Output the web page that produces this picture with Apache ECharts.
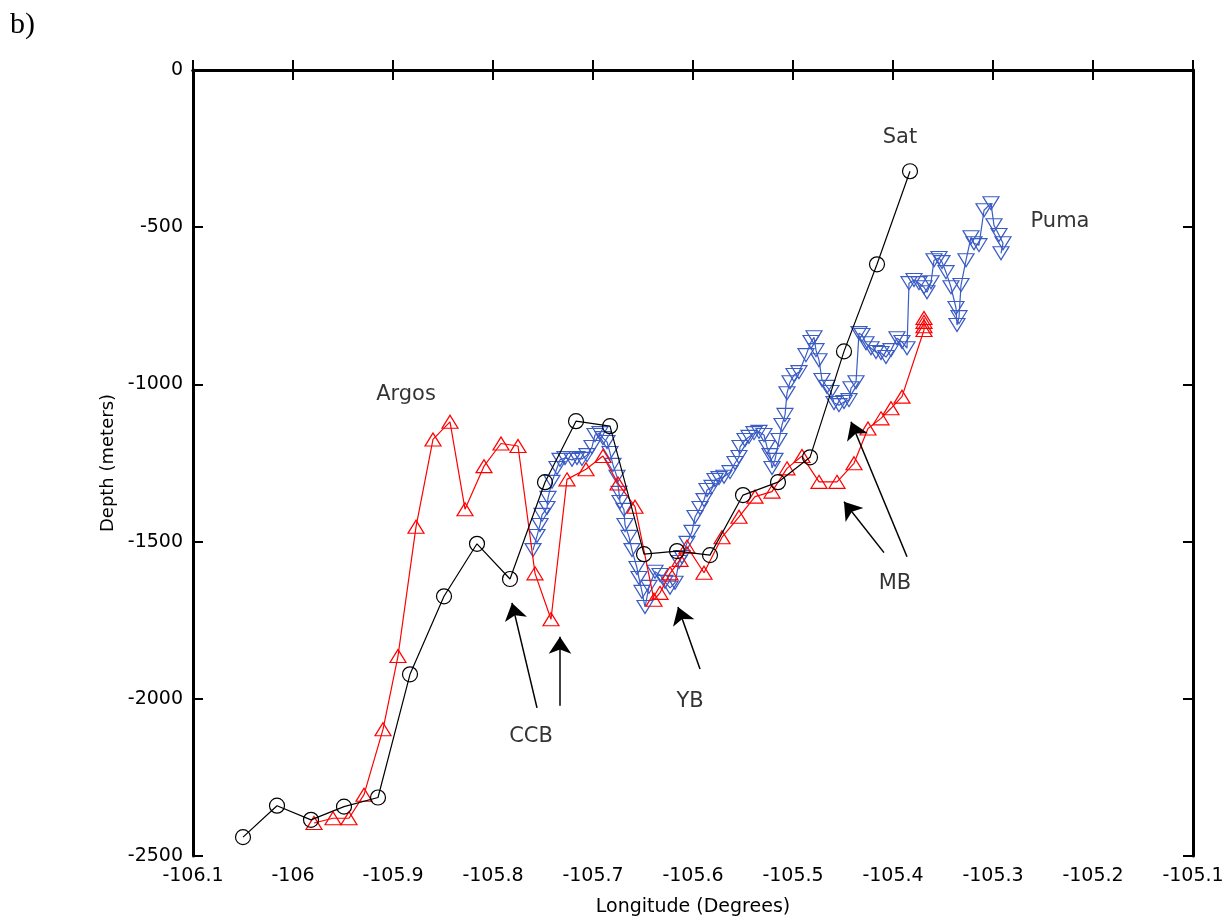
<!DOCTYPE html>
<html>
<head>
<meta charset="utf-8">
<script src="https://cdn.jsdelivr.net/npm/echarts@6/dist/echarts.min.js"></script>
<style>
html,body{margin:0;padding:0;background:#fff;}
#chart{width:1225px;height:920px;}
</style>
</head>
<body>
<div id="chart"></div>
<script>
// ---- Data (longitude in degrees, depth in meters) ----
const satLon = [-106.050,-106.016,-105.982,-105.949,-105.915,-105.883,-105.849,-105.816,-105.783,-105.748,-105.717,-105.683,-105.649,-105.616,-105.583,-105.550,-105.515,-105.483,-105.449,-105.416,-105.383];
const satDepth = [-2440,-2340,-2385,-2343,-2314,-1922,-1674,-1507,-1619,-1311,-1117,-1133,-1540,-1530,-1543,-1352,-1311,-1232,-895,-618,-322];

const argosLon = [-105.979,-105.960,-105.944,-105.929,-105.910,-105.895,-105.877,-105.860,-105.843,-105.828,-105.809,-105.792,-105.775,-105.758,-105.742,-105.726,-105.707,-105.690,-105.675,-105.658,-105.639,-105.633,-105.623,-105.613,-105.606,-105.589,-105.571,-105.554,-105.538,-105.521,-105.506,-105.491,-105.474,-105.456,-105.439,-105.425,-105.412,-105.402,-105.391,-105.369,-105.369,-105.369,-105.369];
const argosDepth = [-2395,-2380,-2380,-2305,-2097,-1864,-1453,-1175,-1119,-1397,-1260,-1188,-1196,-1601,-1747,-1302,-1270,-1228,-1315,-1389,-1685,-1663,-1601,-1558,-1516,-1599,-1486,-1421,-1357,-1341,-1267,-1228,-1310,-1310,-1251,-1140,-1108,-1076,-1039,-827,-815,-801,-789];

const pumaLon = [-105.760,-105.756,-105.753,-105.751,-105.746,-105.745,-105.741,-105.736,-105.733,-105.728,-105.721,-105.716,-105.711,-105.706,-105.701,-105.698,-105.693,-105.690,-105.686,-105.683,-105.680,-105.676,-105.674,-105.673,-105.669,-105.668,-105.664,-105.661,-105.656,-105.654,-105.651,-105.648,-105.644,-105.638,-105.633,-105.628,-105.623,-105.618,-105.614,-105.611,-105.606,-105.601,-105.598,-105.593,-105.589,-105.586,-105.581,-105.578,-105.574,-105.569,-105.563,-105.558,-105.554,-105.553,-105.548,-105.544,-105.539,-105.534,-105.529,-105.526,-105.523,-105.521,-105.518,-105.514,-105.511,-105.508,-105.506,-105.503,-105.499,-105.494,-105.487,-105.482,-105.479,-105.477,-105.474,-105.471,-105.466,-105.462,-105.459,-105.454,-105.449,-105.444,-105.442,-105.437,-105.434,-105.431,-105.427,-105.422,-105.417,-105.412,-105.407,-105.402,-105.396,-105.391,-105.386,-105.384,-105.379,-105.374,-105.369,-105.366,-105.362,-105.359,-105.354,-105.351,-105.347,-105.342,-105.337,-105.336,-105.334,-105.332,-105.327,-105.322,-105.319,-105.314,-105.309,-105.302,-105.299,-105.294,-105.290,-105.292];
const pumaDepth = [-1527,-1482,-1447,-1415,-1393,-1361,-1310,-1266,-1240,-1234,-1240,-1234,-1237,-1225,-1199,-1161,-1155,-1171,-1183,-1218,-1256,-1294,-1345,-1374,-1399,-1447,-1485,-1527,-1584,-1616,-1660,-1708,-1644,-1596,-1606,-1628,-1647,-1631,-1565,-1549,-1504,-1469,-1422,-1393,-1368,-1336,-1326,-1304,-1298,-1294,-1279,-1250,-1231,-1199,-1177,-1167,-1155,-1151,-1161,-1199,-1225,-1266,-1240,-1177,-1129,-1097,-1028,-993,-970,-961,-907,-865,-850,-891,-923,-986,-1008,-1024,-1059,-1066,-1056,-1050,-1012,-993,-837,-843,-869,-885,-897,-900,-913,-891,-853,-865,-885,-678,-668,-678,-691,-707,-675,-605,-598,-611,-643,-691,-757,-811,-786,-684,-605,-532,-551,-557,-446,-424,-494,-525,-551,-583];

const xTicks = {min: -106.1, max: -105.1, step: 0.1};
const yTicks = {min: -2500, max: 0, step: 500};

// text labels: [lon, depth, text]
const labels = [
  [-105.887, -1031, 'Argos'],
  [-105.393, -214, 'Sat'],
  [-105.233, -481, 'Puma'],
  [-105.762, -2121, 'CCB'],
  [-105.603, -2010, 'YB'],
  [-105.398, -1635, 'MB']
];
// arrows: [tailLon, tailDepth, tipLon, tipDepth]
const arrows = [
  [-105.756, -2029, -105.781, -1695],
  [-105.733, -2022, -105.733, -1803],
  [-105.593, -1905, -105.615, -1708],
  [-105.409, -1535, -105.449, -1373],
  [-105.386, -1548, -105.442, -1119]
];

function zip(a, b) { return a.map((v, i) => [v, b[i]]); }

const chart = echarts.init(document.getElementById('chart'), null, {renderer: 'canvas'});
const FONT = 'DejaVu Sans';
const axisCommon = {
  axisLine: {show: true, lineStyle: {color: '#000', width: 3}},
  axisTick: {show: true, inside: true, length: 10, lineStyle: {color: '#000', width: 2}},
  splitLine: {show: false}
};

const option = {
  animation: false,
  backgroundColor: '#fff',
  grid: {left: 193, right: 32, top: 70, bottom: 64, containLabel: false, outerBoundsMode: 'none'},
  xAxis: [
    Object.assign({
      type: 'value', position: 'bottom', min: xTicks.min, max: xTicks.max, interval: xTicks.step,
      name: 'Longitude (Degrees)', nameLocation: 'middle', nameGap: 42,
      nameTextStyle: {color: '#000', fontSize: 19, fontFamily: FONT},
      axisLabel: {color: '#000', fontSize: 19, fontFamily: FONT, margin: 11,
        formatter: v => String(+v.toFixed(1))}
    }, axisCommon),
    Object.assign({
      type: 'value', position: 'top', min: xTicks.min, max: xTicks.max, interval: xTicks.step,
      axisLabel: {show: false}
    }, axisCommon)
  ],
  yAxis: [
    Object.assign({
      type: 'value', position: 'left', min: yTicks.min, max: yTicks.max, interval: yTicks.step,
      name: 'Depth (meters)', nameLocation: 'middle', nameGap: 76, nameRotate: 90,
      nameTextStyle: {color: '#000', fontSize: 18, fontFamily: FONT},
      axisLabel: {color: '#000', fontSize: 19, fontFamily: FONT, margin: 10,
        formatter: v => String(v)}
    }, axisCommon),
    Object.assign({
      type: 'value', position: 'right', min: yTicks.min, max: yTicks.max, interval: yTicks.step,
      axisLabel: {show: false}
    }, axisCommon)
  ],
  graphic: [{
    type: 'text', left: 10, top: 10,
    style: {text: 'b)', font: '30px "Liberation Serif"', fill: '#000'}
  }],
  series: [
    {
      name: 'Puma', type: 'line', data: zip(pumaLon, pumaDepth),
      symbol: 'triangle', symbolRotate: 180, symbolSize: [16, 13], showAllSymbol: true,
      lineStyle: {color: '#3a5cc4', width: 1.2},
      itemStyle: {color: 'rgba(0,0,0,0)', borderColor: '#3a5cc4', borderWidth: 1.2},
      z: 2
    },
    {
      name: 'Argos', type: 'line', data: zip(argosLon, argosDepth),
      symbol: 'triangle', symbolSize: [16, 13], showAllSymbol: true,
      lineStyle: {color: '#ff0000', width: 1.2},
      itemStyle: {color: 'rgba(0,0,0,0)', borderColor: '#ff0000', borderWidth: 1.2},
      z: 3
    },
    {
      name: 'Sat', type: 'line', data: zip(satLon, satDepth),
      symbol: 'circle', symbolSize: 15, showAllSymbol: true,
      lineStyle: {color: '#000', width: 1.2},
      itemStyle: {color: 'rgba(0,0,0,0)', borderColor: '#000', borderWidth: 1.2},
      z: 4
    },
    {
      name: 'labels', type: 'scatter', data: labels.map(l => ({value: [l[0], l[1]], name: l[2]})),
      symbol: 'circle', symbolSize: 1, itemStyle: {color: 'rgba(0,0,0,0)'},
      label: {show: true, position: 'inside', formatter: p => p.name, color: '#000',
        fontSize: 21, fontFamily: FONT},
      z: 5
    },
    {
      name: 'arrows', type: 'line', data: [],
      markLine: {
        silent: true, symbol: ['none', 'arrow'], symbolSize: 17,
        lineStyle: {color: '#000', width: 1.5, type: 'solid'},
        itemStyle: {color: '#000'},
        label: {show: false},
        data: arrows.map(a => [{coord: [a[0], a[1]]}, {coord: [a[2], a[3]]}])
      },
      z: 5
    }
  ]
};
chart.setOption(option);
</script>
</body>
</html>
